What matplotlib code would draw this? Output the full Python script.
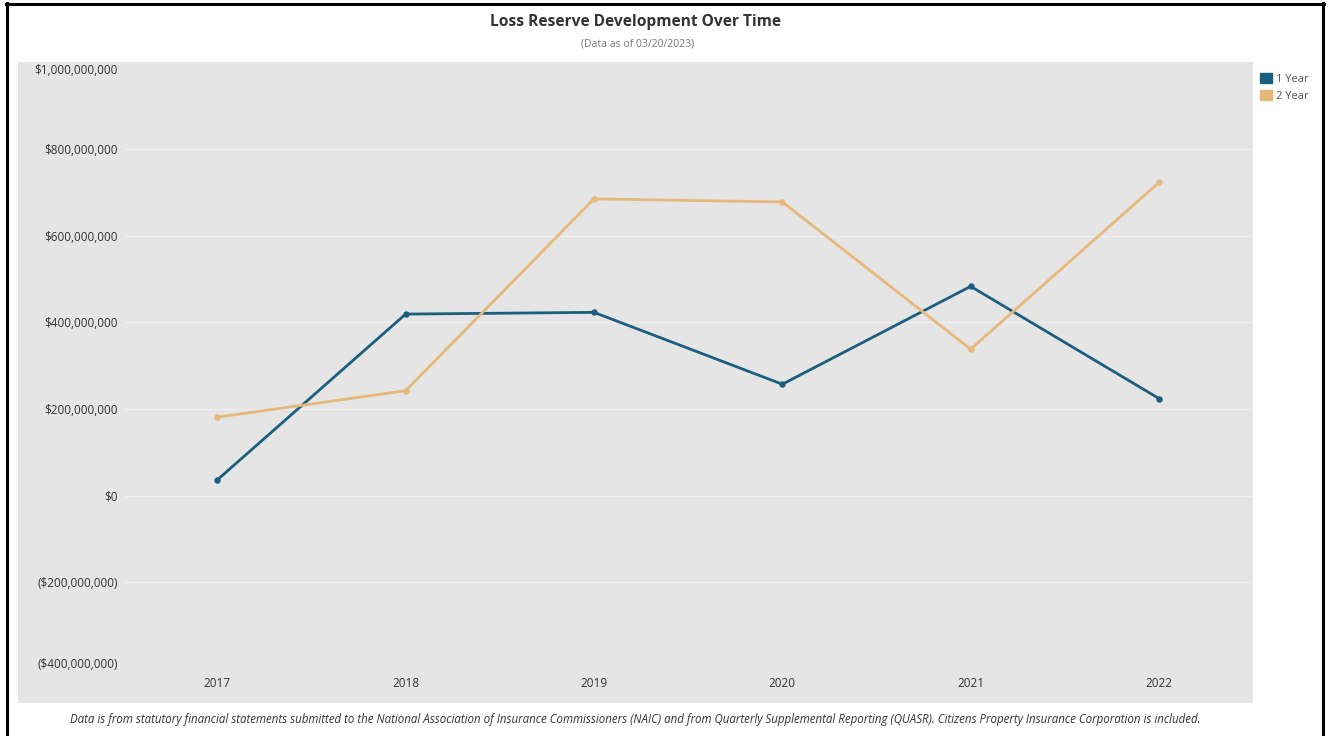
import matplotlib
matplotlib.use("Agg")
import matplotlib.pyplot as plt
from matplotlib.lines import Line2D
from matplotlib.patches import Patch
import matplotlib.transforms as mtransforms

# ---- data ----
years = ["2017", "2018", "2019", "2020", "2021", "2022"]
one_year = [36e6, 419e6, 423e6, 257e6, 483e6, 224e6]
two_year = [181e6, 242e6, 685e6, 678e6, 338e6, 723e6]
series_names = ["1 Year", "2 Year"]
y_ticks = [-400e6, -200e6, 0, 200e6, 400e6, 600e6, 800e6, 1000e6]

title = "Loss Reserve Development Over Time"
subtitle = "(Data as of 03/20/2023)"
footer = ("Data is from statutory financial statements submitted to the National Association of "
          "Insurance Commissioners (NAIC) and from Quarterly Supplemental Reporting (QUASR). "
          "Citizens Property Insurance Corporation is included.")

C1 = "#1c5e7e"
C2 = "#e6b87a"
BG = "#e5e5e5"
FONT = ["Open Sans", "DejaVu Sans"]
plt.rcParams["font.family"] = FONT

W, H = 1328, 736
fig = plt.figure(figsize=(W / 100, H / 100), dpi=100)
fig.patch.set_facecolor("white")

def fx(px):
    return px / W

def fy(py):
    return 1 - py / H

ax = fig.add_axes([fx(18), fy(703), fx(1253) - fx(18), fy(62) - fy(703)])
ax.set_facecolor(BG)
for s in ax.spines.values():
    s.set_visible(False)

x = list(range(len(years)))
ax.set_xlim(-1.058, 5.499)
ax.set_ylim(-479.2e6, 1001.2e6)

# gridlines (start right of label area), inner ticks only
gx0 = (125 - 18) / (1253 - 18)
for t in y_ticks[1:-1]:
    ax.axhline(t, xmin=gx0, xmax=1, color="#efefef", lw=0.9, zorder=1)

ax.plot(x, one_year, color=C1, lw=2.0, marker="o", ms=3.6, zorder=3, solid_joinstyle="round")
ax.plot(x, two_year, color=C2, lw=2.0, marker="o", ms=3.6, zorder=3, solid_joinstyle="round")

def fmt(v):
    if v < 0:
        return "(${:,.0f})".format(-v)
    return "${:,.0f}".format(v)

ax.set_yticks(y_ticks, [fmt(t) for t in y_ticks])
ax.tick_params(axis="y", length=0, pad=-(100 * 0.72), labelsize=8.5, labelcolor="#333333")
for lab in ax.get_yticklabels():
    lab.set_horizontalalignment("right")
ylabs = ax.get_yticklabels()
ylabs[-1].set_transform(ylabs[-1].get_transform() + mtransforms.ScaledTranslation(0, -6 / 100, fig.dpi_scale_trans))
ylabs[0].set_transform(ylabs[0].get_transform() + mtransforms.ScaledTranslation(0, 6 / 100, fig.dpi_scale_trans))

ax.set_xticks(x, years)
ax.tick_params(axis="x", length=0, pad=-(26 * 0.72), labelsize=8.5, labelcolor="#333333")

# titles
fig.text(fx(635), fy(22), title, ha="center", va="center", fontsize=11.2, fontweight="bold", color="#333333")
fig.text(fx(638), fy(44), subtitle, ha="center", va="center", fontsize=7.5, color="#777777")
fig.text(fx(635), fy(719.5), footer, ha="center", va="center", fontsize=8.3, style="italic", color="#333333")

# legend
handles = [Patch(facecolor=C1, edgecolor=C1), Patch(facecolor=C2, edgecolor=C2)]
fig.legend(handles, series_names, loc="upper left", bbox_to_anchor=(fx(1260), fy(73)),
           frameon=False, fontsize=8, handlelength=1.05, handleheight=1.05,
           handletextpad=0.35, labelspacing=0.45, borderaxespad=0, borderpad=0,
           labelcolor="#555555")

# frame
fig.add_artist(Line2D([fx(7), fx(7)], [fy(3), fy(736)], color="black", lw=2.2))
fig.add_artist(Line2D([fx(6), fx(1324)], [fy(3.5), fy(3.5)], color="black", lw=2.2))
fig.add_artist(Line2D([fx(1323), fx(1323)], [fy(3), fy(736)], color="black", lw=2.2))

fig.savefig("out.png", dpi=100, facecolor="white")
